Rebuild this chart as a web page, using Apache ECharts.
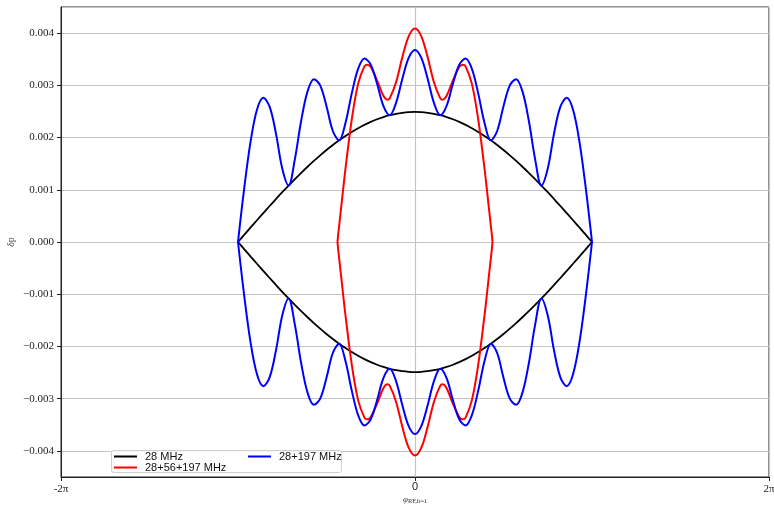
<!DOCTYPE html>
<html>
<head>
<meta charset="utf-8">
<script src="https://cdn.jsdelivr.net/npm/echarts@6/dist/echarts.min.js"></script>
<style>
  html, body { margin: 0; padding: 0; background: #ffffff; }
  #chart { width: 774px; height: 506px; }
</style>
</head>
<body>
<div id="chart"></div>
<script>
// ---- data (phase in rad of the h=1 RF, delta p) ----
const phase = [-3.1416, -3.0294, -2.9172, -2.8050, -2.6928, -2.5806, -2.4684, -2.3562, -2.2440, -2.1318,
  -2.0196, -1.9074, -1.7952, -1.6830, -1.5708, -1.4586, -1.3464, -1.2342, -1.1220, -1.0098,
  -0.8976, -0.7854, -0.6732, -0.5610, -0.4488, -0.3366, -0.2244, -0.1122, 0, 0.1122,
  0.2244, 0.3366, 0.4488, 0.5610, 0.6732, 0.7854, 0.8976, 1.0098, 1.1220, 1.2342,
  1.3464, 1.4586, 1.5708, 1.6830, 1.7952, 1.9074, 2.0196, 2.1318, 2.2440, 2.3562,
  2.4684, 2.5806, 2.6928, 2.8050, 2.9172, 3.0294, 3.1416];

const blackUpper = [0, 0.000140, 0.000279, 0.000417, 0.000554, 0.000689, 0.000822, 0.000953, 0.001080, 0.001204,
  0.001325, 0.001441, 0.001552, 0.001659, 0.001761, 0.001857, 0.001947, 0.002031, 0.002108, 0.002179,
  0.002243, 0.002300, 0.002350, 0.002393, 0.002428, 0.002455, 0.002474, 0.002486, 0.002490, 0.002486,
  0.002474, 0.002455, 0.002428, 0.002393, 0.002350, 0.002300, 0.002243, 0.002179, 0.002108, 0.002031,
  0.001947, 0.001857, 0.001761, 0.001659, 0.001552, 0.001441, 0.001325, 0.001204, 0.001080, 0.000953,
  0.000822, 0.000689, 0.000554, 0.000417, 0.000279, 0.000140, 0];
const blackLower = [0, -0.000140, -0.000279, -0.000417, -0.000554, -0.000689, -0.000822, -0.000953, -0.001080, -0.001204,
  -0.001325, -0.001441, -0.001552, -0.001659, -0.001761, -0.001857, -0.001947, -0.002031, -0.002108, -0.002179,
  -0.002243, -0.002300, -0.002350, -0.002393, -0.002428, -0.002455, -0.002474, -0.002486, -0.002490, -0.002486,
  -0.002474, -0.002455, -0.002428, -0.002393, -0.002350, -0.002300, -0.002243, -0.002179, -0.002108, -0.002031,
  -0.001947, -0.001857, -0.001761, -0.001659, -0.001552, -0.001441, -0.001325, -0.001204, -0.001080, -0.000953,
  -0.000822, -0.000689, -0.000554, -0.000417, -0.000279, -0.000140, 0];

const blueUpper = [0, 0.001044, 0.001932, 0.002532, 0.002760, 0.002591, 0.002081, 0.001407, 0.001080, 0.001588,
  0.002326, 0.002884, 0.003118, 0.002999, 0.002599, 0.002126, 0.001947, 0.002279, 0.002846, 0.003315,
  0.003513, 0.003395, 0.003030, 0.002607, 0.002428, 0.002664, 0.003127, 0.003524, 0.003676, 0.003524,
  0.003127, 0.002664, 0.002428, 0.002607, 0.003030, 0.003395, 0.003513, 0.003315, 0.002846, 0.002279,
  0.001947, 0.002126, 0.002599, 0.002999, 0.003118, 0.002884, 0.002326, 0.001588, 0.001080, 0.001407,
  0.002081, 0.002591, 0.002760, 0.002532, 0.001932, 0.001044, 0];
const blueLower = [0, -0.001044, -0.001932, -0.002532, -0.002760, -0.002591, -0.002081, -0.001407, -0.001080, -0.001588,
  -0.002326, -0.002884, -0.003118, -0.002999, -0.002599, -0.002126, -0.001947, -0.002279, -0.002846, -0.003315,
  -0.003513, -0.003395, -0.003030, -0.002607, -0.002428, -0.002664, -0.003127, -0.003524, -0.003676, -0.003524,
  -0.003127, -0.002664, -0.002428, -0.002607, -0.003030, -0.003395, -0.003513, -0.003315, -0.002846, -0.002279,
  -0.001947, -0.002126, -0.002599, -0.002999, -0.003118, -0.002884, -0.002326, -0.001588, -0.001080, -0.001407,
  -0.002081, -0.002591, -0.002760, -0.002532, -0.001932, -0.001044, 0];

const phaseRed = [-1.376, -1.36, -1.3464, -1.29, -1.2342, -1.1220, -1.0098, -0.8976, -0.846, -0.7854,
  -0.6732, -0.5610, -0.49, -0.4488, -0.3366, -0.2244, -0.1122, 0, 0.1122, 0.2244,
  0.3366, 0.4488, 0.49, 0.5610, 0.6732, 0.7854, 0.846, 0.8976, 1.0098, 1.1220,
  1.2342, 1.29, 1.3464, 1.36, 1.376];
const redUpper = [0, 0.000179, 0.000308, 0.000865, 0.001402, 0.002350, 0.003028, 0.003362, 0.003396, 0.003351,
  0.003094, 0.002799, 0.002725, 0.002750, 0.003058, 0.003540, 0.003939, 0.004090, 0.003939, 0.003540,
  0.003058, 0.002750, 0.002725, 0.002799, 0.003094, 0.003351, 0.003396, 0.003362, 0.003028, 0.002350,
  0.001402, 0.000865, 0.000308, 0.000179, 0];
const redLower = [0, -0.000179, -0.000308, -0.000865, -0.001402, -0.002350, -0.003028, -0.003362, -0.003396, -0.003351,
  -0.003094, -0.002799, -0.002725, -0.002750, -0.003058, -0.003540, -0.003939, -0.004090, -0.003939, -0.003540,
  -0.003058, -0.002750, -0.002725, -0.002799, -0.003094, -0.003351, -0.003396, -0.003362, -0.003028, -0.002350,
  -0.001402, -0.000865, -0.000308, -0.000179, 0];

const seriesNames = ['28 MHz', '28+56+197 MHz', '28+197 MHz'];
const xTickLabels = ['-2π', '0', '2π'];
const xTickValues = [-2 * Math.PI, 0, 2 * Math.PI];

// ---- chart ----
function pairs(xs, ys) { return xs.map((x, i) => [x, ys[i]]); }

function curve(name, color, xs, ys, width) {
  return {
    type: 'line', name: name, data: pairs(xs, ys),
    showSymbol: false, symbol: 'none', smooth: 0.35,
    color: color, lineStyle: { color: color, width: width },
    emphasis: { disabled: true }, animation: false
  };
}

const chart = echarts.init(document.getElementById('chart'), null, { renderer: 'canvas' });

const serif = "'Liberation Serif', 'DejaVu Serif', serif";
const sans = "'Liberation Sans', Arial, sans-serif";

chart.setOption({
  backgroundColor: '#ffffff',
  animation: false,
  grid: {
    left: 61, top: 7, width: 708, height: 470, show: true,
    borderColor: '#222', borderWidth: 1, backgroundColor: 'transparent',
    containLabel: false, outerBoundsMode: 'none'
  },
  xAxis: {
    type: 'value', min: xTickValues[0], max: xTickValues[2], interval: xTickValues[2],
    name: '{a|φ}{b|RF,h=1}', nameLocation: 'middle', nameGap: 17, nameMoveOverlap: false,
    nameTextStyle: {
      rich: {
        a: { fontFamily: serif, fontStyle: 'italic', fontSize: 9, color: '#333' },
        b: { fontFamily: serif, fontSize: 6.5, color: '#333', padding: [4, 0, 0, 0] }
      }
    },
    axisLine: { show: true, onZero: false, lineStyle: { color: '#222', width: 1 } },
    axisTick: { show: true, length: 4, lineStyle: { color: '#222' } },
    axisLabel: {
      margin: 4, fontSize: 11, color: '#222',
      formatter: function (v, i) {
        const idx = xTickValues.findIndex(t => Math.abs(t - v) < 1e-6);
        const s = xTickLabels[idx < 0 ? i : idx];
        return s === '0' ? '{z|' + s + '}' : '{s|' + s + '}';
      },
      rich: {
        s: { fontFamily: serif, fontSize: 11, color: '#222', padding: [3, 0, 0, 0] },
        z: { fontFamily: sans, fontSize: 11, color: '#222' }
      }
    },
    splitLine: { show: true, lineStyle: { color: '#c4c4c4', width: 1.1 } }
  },
  yAxis: {
    type: 'value', min: -0.0045, max: 0.0045, minInterval: 0.001, maxInterval: 0.001,
    name: 'δp', nameLocation: 'middle', nameGap: 45, nameRotate: 90, nameMoveOverlap: false,
    nameTextStyle: { fontFamily: serif, fontSize: 10, color: '#444' },
    axisLine: { show: true, onZero: false, lineStyle: { color: '#222', width: 1 } },
    axisTick: { show: true, length: 4, lineStyle: { color: '#222' } },
    axisLabel: {
      showMinLabel: false, showMaxLabel: false, margin: 7,
      fontFamily: serif, fontSize: 11, color: '#222',
      formatter: function (v) { return (v < -1e-9 ? '\u2212' : '') + Math.abs(v).toFixed(3); }
    },
    splitLine: { show: true, lineStyle: { color: '#c4c4c4', width: 1.1 } }
  },
  legend: [
    {
      data: [seriesNames[0], seriesNames[1]], orient: 'vertical', left: 114, top: 451,
      itemWidth: 23, itemHeight: 2, itemGap: 0, icon: 'rect', padding: 0, selectedMode: false,
      textStyle: { fontFamily: sans, fontSize: 11, color: '#111', lineHeight: 10, padding: [0, 0, 0, 3] }
    },
    {
      data: [seriesNames[2]], orient: 'vertical', left: 248, top: 451,
      itemWidth: 23, itemHeight: 2, itemGap: 0, icon: 'rect', padding: 0, selectedMode: false,
      textStyle: { fontFamily: sans, fontSize: 11, color: '#111', lineHeight: 10, padding: [0, 0, 0, 3] }
    }
  ],
  graphic: [{
    type: 'rect', left: 111, top: 450, z: 3,
    shape: { width: 230, height: 22, r: 2 },
    style: { fill: 'rgba(255,255,255,0.85)', stroke: '#d0d0d0', lineWidth: 1 }
  }],
  series: [
    curve(seriesNames[0], '#000000', phase, blackUpper, 1.8),
    curve(seriesNames[0], '#000000', phase, blackLower, 1.8),
    curve(seriesNames[1], '#ff0000', phaseRed, redUpper, 2),
    curve(seriesNames[1], '#ff0000', phaseRed, redLower, 2),
    curve(seriesNames[2], '#0000ff', phase, blueUpper, 2),
    curve(seriesNames[2], '#0000ff', phase, blueLower, 2)
  ]
});
</script>
</body>
</html>
